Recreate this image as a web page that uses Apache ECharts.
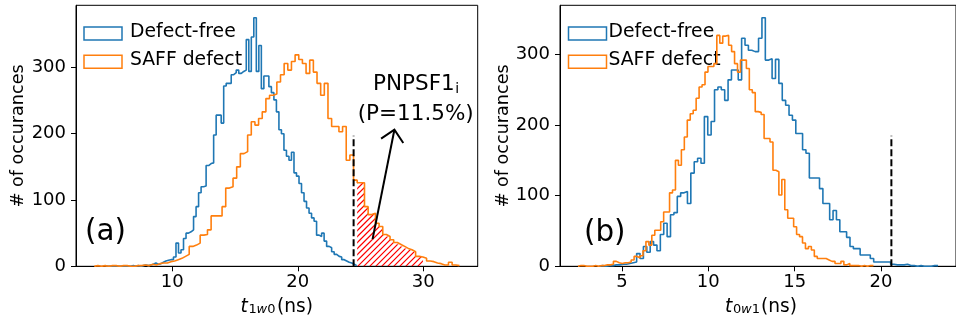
<!DOCTYPE html>
<html>
<head>
<meta charset="utf-8">
<script src="https://cdn.jsdelivr.net/npm/echarts@6/dist/echarts.min.js"></script>
<style>
  html, body { margin: 0; padding: 0; background: #ffffff; }
  #chart { width: 956px; height: 324px; }
</style>
</head>
<body>
<div id="chart"></div>
<script>
// ---------- (a) t_1w0 histograms: first bin edge, bin width, counts per bin ----------
const aFreeStart = 4.7;
const aFreeWidth = 0.2;
const aFreeCounts = [
  0, 0, 0, 0, 0, 0, 0, 0, 0, 0, 1, 0,
  1, 0, 1, 2, 1, 2, 3, 5, 3, 4, 6, 8, 9, 10,
  10, 14, 35, 20, 25,
  42, 50, 52, 55, 75, 90, 111, 120,
  121, 152, 155, 156, 198, 228, 228, 216, 272, 276, 276, 289, 292, 296, 291,
  294, 296, 342, 294, 346, 375, 294, 333, 268, 287, 287, 271, 262, 251, 233, 206,
  200, 175, 166, 160, 172, 141, 136, 125, 111, 98, 88, 80, 73, 68, 47, 45,
  50, 38, 30, 28, 22, 18, 15, 14, 10, 8, 6, 5, 3, 1
];
const aSaffStart = 3.79;
const aSaffWidth = 0.2909;
const aSaffCounts = [
  1, 0, 1, 0, 1, 1, 0, 1, 1, 0,
  0, 1, 1, 2, 1, 3, 2, 4, 5, 5,
  7, 8, 10, 12, 15, 18, 30, 32, 35, 47,
  48, 55, 76, 76, 76, 90, 118, 120, 133, 150,
  170, 173, 198, 218, 213, 223, 233, 253, 258, 260,
  278, 289, 306, 296, 309, 319, 312, 306, 291, 311,
  293, 276, 258, 276, 223, 211, 211, 203, 211, 160,
  168, 130, 126, 126, 90, 78, 80, 65, 60, 48,
  45, 40, 36, 33, 30, 27, 25, 22, 15, 14,
  12, 8, 7, 5, 4, 2, 2, 6, 2, 1
];
const aThreshold = 24.45;     // dashed cut-off
const aShadeEnd = 30.26;      // right end of the hatched tail
const aArrowFrom = [25.96, 41];
const aArrowTo = [27.7, 206];

// ---------- (b) t_0w1 histograms ----------
const bFreeStart = 3.7;
const bFreeWidth = 0.196;
const bFreeCounts = [
  1, 0, 1, 1, 2, 2, 3, 3, 4, 5,
  6, 18, 11, 28, 20, 35, 30, 22, 45, 61,
  42, 73, 76, 99, 104, 106, 89, 132, 148, 153,
  146, 212, 186, 205, 250, 254, 250, 235, 264, 278,
  278, 264, 323, 313, 306, 304, 304, 323, 352, 292,
  294, 266, 293, 259, 235, 228, 214, 207, 188, 188,
  165, 160, 125, 125, 125, 110, 89, 89, 66, 79,
  66, 49, 49, 41, 28, 25, 25, 16, 16, 16,
  11, 6, 6, 6, 6, 6, 3, 2, 2, 2,
  3, 1, 1, 0, 1, 0, 0, 0, 1, 1
];
const bSaffStart = 2.46;
const bSaffWidth = 0.171;
const bSaffCounts = [
  1, 1, 0, 0, 0, 1, 0, 1, 1, 2,
  2, 3, 7, 5, 4, 5, 5, 6, 9, 14,
  12, 15, 22, 35, 30, 44, 51, 51, 63, 77,
  77, 104, 108, 150, 143, 165, 183, 207, 216, 221,
  238, 254, 257, 275, 283, 283, 287, 327, 316, 326,
  327, 313, 304, 287, 275, 292, 292, 280, 250, 246,
  219, 218, 215, 181, 181, 176, 136, 134, 101, 123,
  80, 68, 68, 56, 45, 42, 33, 25, 28, 23,
  14, 11, 11, 11, 9, 7, 7, 4, 4, 7,
  2, 4, 1, 1, 1, 0, 1, 0, 1, 1
];
const bThreshold = 20.6;

// ---------- axes ----------
const aTicksX = [10, 20, 30];
const bTicksX = [5, 10, 15, 20];
const ticksY = [0, 100, 200, 300];
const aRangeX = [2.335, 34.335];
const bRangeX = [1.42, 24.34];
const aMaxY = 393.75;
const bMaxY = 369.6;

const seriesNames = ['Defect-free', 'SAFF defect'];
const BLUE = '#1f77b4';
const ORANGE = '#ff7f0e';
const HATCH = 'rgb(255, 0, 0)';
const FONT = 'DejaVu Sans';

// Turn bin edges + counts into the outline points of a step histogram.
function stepOutline(start, width, counts) {
  const pts = [[start, 0]];
  counts.forEach((c, i) => pts.push([start + i * width, c]));
  const end = start + counts.length * width;
  pts.push([end, counts[counts.length - 1]]);
  pts.push([end, 0]);
  return pts;
}

// Closed step polygon of the bins lying between lo and hi.
function stepPolygon(start, width, counts, lo, hi) {
  const pts = [];
  counts.forEach((c, i) => {
    const e0 = start + i * width, e1 = e0 + width;
    if (e0 >= lo - 1e-6 && e1 <= hi + 1e-6) {
      if (!pts.length) pts.push([e0, 0]);
      pts.push([e0, c], [e1, c]);
    }
  });
  pts.push([pts[pts.length - 1][0], 0]);
  return pts;
}

const aShadePolygon = stepPolygon(aSaffStart, aSaffWidth, aSaffCounts, aThreshold, aShadeEnd);

function histSeries(name, color, data, idx) {
  return {
    type: 'line', name: name, step: 'end', data: data,
    xAxisIndex: idx, yAxisIndex: idx,
    showSymbol: false, symbol: 'none', silent: true,
    lineStyle: { color: color, width: 1.6 },
    z: 3
  };
}

function dashedSeries(x, top, idx) {
  return {
    type: 'line', data: [[x, 0], [x, top]],
    xAxisIndex: idx, yAxisIndex: idx,
    showSymbol: false, symbol: 'none', silent: true,
    lineStyle: { color: '#000', width: 2, type: [7, 3] },
    z: 4
  };
}

function xAxisOf(idx, range, ticks) {
  return {
    type: 'value', gridIndex: idx, min: range[0], max: range[1],
    splitLine: { show: false },
    axisLine: { show: true, onZero: false, lineStyle: { color: '#000', width: 1 } },
    axisTick: { show: true, length: 5, customValues: ticks, lineStyle: { color: '#000', width: 1 } },
    axisLabel: { customValues: ticks, margin: 7, color: '#000', fontSize: 18, fontFamily: FONT }
  };
}

function yAxisOf(idx, maxY) {
  return {
    type: 'value', gridIndex: idx, min: 0, max: maxY,
    splitLine: { show: false },
    axisLine: { show: true, onZero: false, lineStyle: { color: '#000', width: 1 } },
    axisTick: { show: true, length: 5, customValues: ticksY, lineStyle: { color: '#000', width: 1 } },
    axisLabel: { customValues: ticksY, margin: 10, color: '#000', fontSize: 18, fontFamily: FONT }
  };
}

function legendGraphics(left, textLeft) {
  const out = [];
  [BLUE, ORANGE].forEach((c, i) => {
    const top = i === 0 ? 24.5 : 52.8;
    out.push({
      type: 'rect', left: left, top: top, silent: true,
      shape: { width: 38, height: 13 },
      style: { fill: 'none', stroke: c, lineWidth: 1.5 }
    });
    out.push({
      type: 'text', x: textLeft, y: i === 0 ? 32.1 : 60.4, silent: true,
      style: { text: seriesNames[i], fill: '#000', font: '18.8px "DejaVu Sans"',
               textAlign: 'left', textVerticalAlign: 'middle' }
    });
  });
  return out;
}

function txt(x, y, s, font, align, extra) {
  return Object.assign({
    type: 'text', x: x, y: y, silent: true,
    style: { text: s, fill: '#000', font: font, textAlign: align || 'left', textVerticalAlign: 'middle' }
  }, extra || {});
}

const graphics = [].concat(
  legendGraphics(81.5, 130),
  legendGraphics(566, 608.5),
  [
    txt(85, 232.4, '(a)', '29.4px "DejaVu Sans"'),
    txt(584, 233.5, '(b)', '29.4px "DejaVu Sans"'),
    txt(373, 84.8, 'PNPSF1', '21.5px "DejaVu Sans"'),
    txt(455.2, 89.8, 'i', '14px "DejaVu Sans"'),
    txt(415.7, 114.8, '(P=11.5%)', '21.5px "DejaVu Sans"', 'center'),
    txt(18.1, 135.8, '# of occurances', '17.6px "DejaVu Sans"', 'center', { rotation: Math.PI / 2 }),
    txt(503.1, 135.8, '# of occurances', '17.6px "DejaVu Sans"', 'center', { rotation: Math.PI / 2 }),
    // x titles: t_{1w0}(ns) and t_{0w1}(ns)
    txt(240.5, 307, 't', 'italic 18.6px "DejaVu Sans"'),
    txt(248.5, 310, '1', '13px "DejaVu Sans"'),
    txt(256.6, 310, 'w', 'italic 13px "DejaVu Sans"'),
    txt(267.2, 310, '0', '13px "DejaVu Sans"'),
    txt(277, 307, '(ns)', '18.6px "DejaVu Sans"'),
    txt(725, 307, 't', 'italic 18.6px "DejaVu Sans"'),
    txt(733, 310, '0', '13px "DejaVu Sans"'),
    txt(741.1, 310, 'w', 'italic 13px "DejaVu Sans"'),
    txt(751.7, 310, '1', '13px "DejaVu Sans"'),
    txt(761, 307, '(ns)', '18.6px "DejaVu Sans"')
  ]
);

const option = {
  animation: false,
  backgroundColor: '#ffffff',
  grid: [
    { left: 76, top: 5.3, width: 401.7, height: 261, show: true, borderColor: '#000', borderWidth: 1, backgroundColor: 'transparent' },
    { left: 560, top: 5.3, width: 403, height: 261, show: true, borderColor: '#000', borderWidth: 1, backgroundColor: 'transparent' }
  ],
  xAxis: [xAxisOf(0, aRangeX, aTicksX), xAxisOf(1, bRangeX, bTicksX)],
  yAxis: [yAxisOf(0, aMaxY), yAxisOf(1, bMaxY)],
  graphic: graphics,
  series: [
    {
      // red "///" hatching of the tail beyond the cut-off, clipped to the step outline
      type: 'custom', xAxisIndex: 0, yAxisIndex: 0, silent: true, z: 2,
      data: [0],
      renderItem: function (params, api) {
        const poly = aShadePolygon.map(p => api.coord(p));
        let x0 = Infinity, x1 = -Infinity, y0 = Infinity, y1 = -Infinity;
        poly.forEach(p => {
          x0 = Math.min(x0, p[0]); x1 = Math.max(x1, p[0]);
          y0 = Math.min(y0, p[1]); y1 = Math.max(y1, p[1]);
        });
        const gap = 6;
        let d = '';
        for (let k = x0 + y0; k <= x1 + y1 + gap; k += gap) {
          d += 'M' + (k - y1) + ' ' + y1 + 'L' + (k - y0) + ' ' + y0;
        }
        return {
          type: 'group',
          clipPath: { type: 'polygon', shape: { points: poly } },
          children: [{
            type: 'path',
            shape: { pathData: d },
            style: { stroke: HATCH, fill: null, lineWidth: 1.2 }
          }]
        };
      }
    },
    histSeries(seriesNames[0], BLUE, stepOutline(aFreeStart, aFreeWidth, aFreeCounts), 0),
    histSeries(seriesNames[1], ORANGE, stepOutline(aSaffStart, aSaffWidth, aSaffCounts), 0),
    dashedSeries(aThreshold, aMaxY / 2, 0),
    histSeries(seriesNames[0], BLUE, stepOutline(bFreeStart, bFreeWidth, bFreeCounts), 1),
    histSeries(seriesNames[1], ORANGE, stepOutline(bSaffStart, bSaffWidth, bSaffCounts), 1),
    dashedSeries(bThreshold, bMaxY / 2, 1),
    {
      // annotation arrow pointing at the label
      type: 'custom', xAxisIndex: 0, yAxisIndex: 0, silent: true, z: 6,
      data: [[aArrowFrom[0], aArrowFrom[1], aArrowTo[0], aArrowTo[1]]],
      renderItem: function (params, api) {
        const p0 = api.coord([api.value(0), api.value(1)]);
        const p1 = api.coord([api.value(2), api.value(3)]);
        const ang = Math.atan2(p0[1] - p1[1], p0[0] - p1[0]);
        const L = 16, spread = Math.PI / 4;
        const h1 = [p1[0] + L * Math.cos(ang + spread), p1[1] + L * Math.sin(ang + spread)];
        const h2 = [p1[0] + L * Math.cos(ang - spread), p1[1] + L * Math.sin(ang - spread)];
        const st = { stroke: '#000', lineWidth: 2, fill: 'none' };
        return {
          type: 'group',
          children: [
            { type: 'line', shape: { x1: p0[0], y1: p0[1], x2: p1[0], y2: p1[1] }, style: st },
            { type: 'polyline', shape: { points: [h1, p1, h2] }, style: st }
          ]
        };
      }
    }
  ]
};

const chart = echarts.init(document.getElementById('chart'), null, { renderer: 'canvas' });
chart.setOption(option);
</script>
</body>
</html>
